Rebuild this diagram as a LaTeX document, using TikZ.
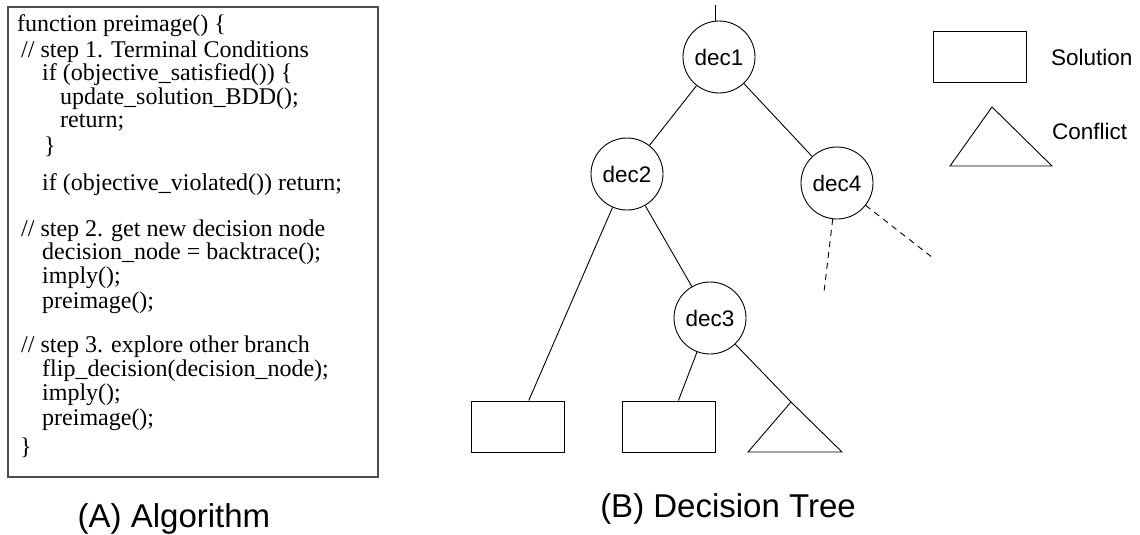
\documentclass[tikz,border=0pt]{standalone}
\usepackage{fontspec}
\setmainfont{Liberation Serif}
\newfontfamily\labelfont{Liberation Sans}
\begin{document}
\begin{tikzpicture}[x=1pt,y=-1pt,
  code/.style={anchor=base west,inner sep=0pt,font=\fontsize{24}{26}\selectfont},
  frame/.style={draw=black!70,line width=1.4pt,inner sep=0pt},
  dec/.style={circle,draw,line width=0.9pt,minimum size=72pt,inner sep=0pt,
    font=\labelfont\fontsize{22.5}{24}\selectfont},
  leaf/.style={rectangle,draw,line width=0.9pt,minimum width=93pt,minimum height=51pt,inner sep=0pt},
  edge/.style={line width=0.9pt},
  open/.style={line width=0.9pt,dash pattern=on 6pt off 5pt},
  caption/.style={font=\labelfont\fontsize{33}{36}\selectfont,anchor=base,inner sep=0pt},
  legendtext/.style={font=\labelfont\fontsize{22.5}{24}\selectfont,anchor=west,inner sep=0pt}]
\useasboundingbox (0,0) rectangle (1140,535);

% ---- (A) the algorithm listing ----
\node[frame,minimum width=370pt,minimum height=470pt] (algbox) at (193,242) {};
\node[code] (l1)  at (17,32)  {function preimage() \{};
\node[code] (l2)  at (21,58)  {// step 1. Terminal Conditions};
\node[code] (l3)  at (42,81)  {if (objective\_satisfied()) \{};
\node[code] (l4)  at (60,104) {update\_solution\_BDD();};
\node[code] (l5)  at (60,127) {return;};
\node[code] (l6)  at (44,153) {\}};
\node[code] (l7)  at (42,190) {if (objective\_violated()) return;};
\node[code] (l8)  at (21,236) {// step 2. get new decision node};
\node[code] (l9)  at (42,259) {decision\_node = backtrace();};
\node[code] (l10) at (42,283) {imply();};
\node[code] (l11) at (42,308) {preimage();};
\node[code] (l12) at (21,352) {// step 3. explore other branch};
\node[code] (l13) at (42,376) {flip\_decision(decision\_node);};
\node[code] (l14) at (42,400) {imply();};
\node[code] (l15) at (42,425) {preimage();};
\node[code] (l16) at (20,454) {\}};
\node[caption] (capA) at (174,527) {(A) Algorithm};

% ---- (B) the decision tree ----
\node[dec] (dec1) at (719,57)  {dec1};
\node[dec] (dec2) at (627,174) {dec2};
\node[dec] (dec4) at (837,183) {dec4};
\node[dec] (dec3) at (710,318) {dec3};
\node[leaf] (sol1) at (517.5,426.5) {};
\node[leaf] (sol2) at (668.5,426.5) {};
\coordinate (confTop) at (791,402);
\draw[edge] (confTop) -- (842,452) -- (748,452) -- cycle;

\coordinate (root) at (715,5);
\draw[edge] (root) -- (root |- dec1.north);
\draw[edge] (dec1) -- (dec2);
\draw[edge] (dec1) -- (dec4);
\draw[edge] (dec2) -- (sol1);
\draw[edge] (dec2) -- (dec3);
\draw[edge] (dec3) -- (sol2);
\draw[edge] (dec3) -- (confTop);

% unexplored branches below dec4
\coordinate (open1) at (824,292);
\coordinate (open2) at (933,258);
\draw[open] (dec4) -- (open1);
\draw[open] (dec4) -- (open2);
\node[caption] (capB) at (728,517) {(B) Decision Tree};

% ---- legend ----
\node[leaf] (keySol) at (979.5,57) {};
\node[legendtext] (keySolText) at (1051,57) {Solution};
\coordinate (keyConfTop) at (992,107);
\draw[edge] (keyConfTop) -- (1052,166) -- (950,166) -- cycle;
\node[legendtext] (keyConfText) at (1052,131) {Conflict};
\end{tikzpicture}
\end{document}
